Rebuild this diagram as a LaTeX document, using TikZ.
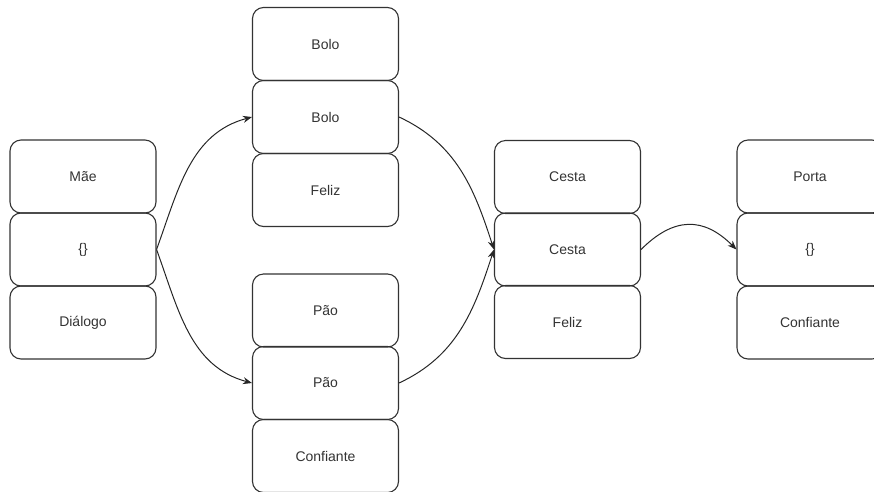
\documentclass[tikz,border=0pt]{standalone}
\usepackage{fontspec}
\setmainfont{Liberation Sans}
\usetikzlibrary{arrows.meta}
\definecolor{boxline}{HTML}{333333}
\definecolor{boxtext}{HTML}{333333}
\begin{document}
\begin{tikzpicture}[x=1pt,y=1pt,
  card/.style={draw=boxline, line width=1.1pt, rounded corners=11pt,
    minimum width=146pt, minimum height=73pt, inner sep=0pt,
    text=boxtext, font=\fontsize{14}{16}\selectfont},
  link/.style={draw=black!85, line width=1pt,
    -{Stealth[length=9pt,width=7pt]}}]
\useasboundingbox (0,0) rectangle (874,-491);

% first group
\node[card] (m1) at (83,-176.5) {Mãe};
\node[card] (m2) at (83,-249.5) {\{\}};
\node[card] (m3) at (83,-322.5) {Diálogo};

% upper branch
\node[card] (b1) at (325.5,-44) {Bolo};
\node[card] (b2) at (325.5,-117) {Bolo};
\node[card] (b3) at (325.5,-190) {Feliz};

% lower branch
\node[card] (p1) at (325.5,-310.5) {Pão};
\node[card] (p2) at (325.5,-383) {Pão};
\node[card] (p3) at (325.5,-456) {Confiante};

% merge
\node[card] (c1) at (567.5,-177) {Cesta};
\node[card] (c2) at (567.5,-249.5) {Cesta};
\node[card] (c3) at (567.5,-322) {Feliz};

% last group
\node[card] (d1) at (810,-176.5) {Porta};
\node[card] (d2) at (810,-249.5) {\{\}};
\node[card] (d3) at (810,-322.5) {Confiante};

% connectors
\draw[link] (m2.east) to[out=70,in=195] (b2.west);
\draw[link] (m2.east) to[out=-70,in=165] (p2.west);
\draw[link] (b2.east) to[out=-25,in=108] (c2.west);
\draw[link] (p2.east) to[out=25,in=-108] (c2.west);
\draw[link] (c2.east) to[out=45,in=135,looseness=1.25] (d2.west);
\end{tikzpicture}
\end{document}
